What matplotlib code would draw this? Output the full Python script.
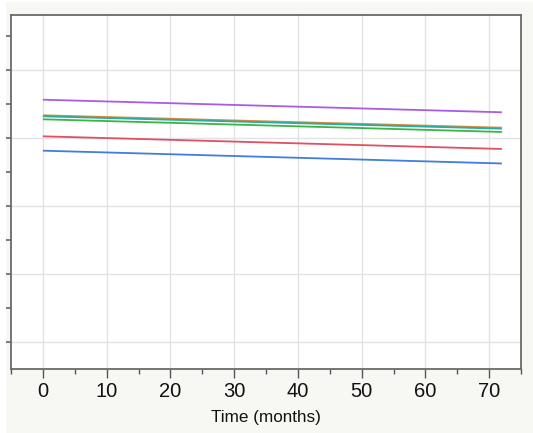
import matplotlib
matplotlib.use('Agg')
import matplotlib.pyplot as plt
from matplotlib.patches import Rectangle
from matplotlib.ticker import MultipleLocator, NullFormatter

# time points (months) and one value per series at each end
months = [0, 72]
purple = [45.64, 43.79]
orange = [43.35, 41.53]
teal = [43.20, 41.38]
green = [42.76, 40.90]
red = [40.26, 38.40]
blue = [38.15, 36.27]

series = [
    (purple, '#a95be6'),
    (orange, '#d88a3e'),
    (teal, '#26ad9c'),
    (green, '#3bb34a'),
    (red, '#de5064'),
    (blue, '#3f7ddf'),
]

plt.rcParams['font.family'] = ['Liberation Sans', 'DejaVu Sans']

W, H = 533, 433
fig = plt.figure(figsize=(W / 100, H / 100), dpi=100)
fig.patch.set_facecolor('white')
fig.patches.append(Rectangle((6 / W, 0), 1 - 6 / W, 1 - 2 / H,
                             transform=fig.transFigure, facecolor='#f7f7f3',
                             edgecolor='none', zorder=-1))

ax = fig.add_axes([11 / W, 1 - 369 / H, 510 / W, 354 / H])
ax.set_facecolor('white')

for vals, col in series:
    ax.plot(months, vals, '-', color=col, lw=1.3, solid_capstyle='butt')

ax.set_xlim(-5, 75)
ax.set_ylim(6.08, 58.08)

ax.xaxis.set_major_locator(MultipleLocator(10))
ax.xaxis.set_minor_locator(MultipleLocator(5))
ax.yaxis.set_major_locator(MultipleLocator(10))
ax.yaxis.set_minor_locator(MultipleLocator(5))
ax.yaxis.set_major_formatter(NullFormatter())

ax.grid(True, which='major', color='#e2e2e2', lw=1.0)
ax.set_axisbelow(True)

ax.tick_params(axis='x', which='major', length=6.5, width=1, color='#555555',
               labelsize=14.5, pad=3, labelcolor='#111111')
ax.tick_params(axis='x', which='minor', length=3.6, width=1, color='#555555')
ax.tick_params(axis='y', which='both', length=3.8, width=1.2, color='#666666')

for s in ax.spines.values():
    s.set_color('#6a6a6a')
    s.set_linewidth(1.3)

ax.set_xlabel('Time (months)', fontsize=12.3, color='#111111')
ax.xaxis.label.set_va('baseline')
ax.xaxis.set_label_coords(0.5, (369 - 421.7) / 354)

fig.savefig('out.png', dpi=100, facecolor=fig.get_facecolor())
